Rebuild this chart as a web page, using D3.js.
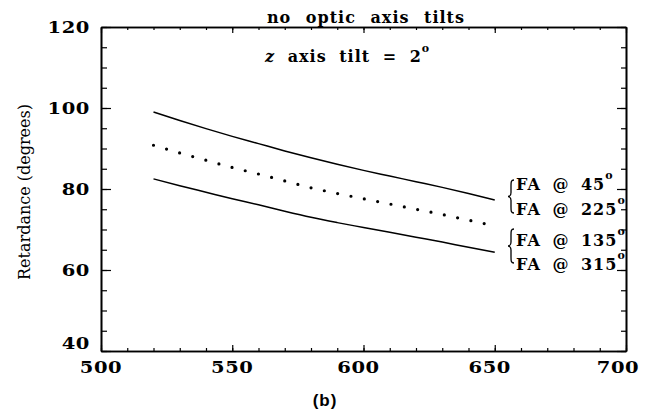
<!DOCTYPE html>
<html>
<head>
<meta charset="utf-8">
<script src="https://cdn.jsdelivr.net/npm/d3@7"></script>
<style>
  html, body { margin: 0; padding: 0; background: #fff; }
  svg { display: block; }
</style>
</head>
<body>
<svg id="chart" width="648" height="413"></svg>
<script>
// Wavelength samples (nm)
const wavelength = [520, 530, 540, 550, 560, 570, 580, 590, 600, 610, 620, 630, 640, 650];
// Retardance (degrees), fast axis at 45° / 225°
const retardFA45 = [99.0, 96.9, 94.9, 93.0, 91.2, 89.4, 87.7, 86.1, 84.6, 83.2, 81.8, 80.4, 78.9, 77.3];
// Retardance (degrees), no tilt reference (dotted)
const retardMid = [90.8, 88.9, 87.1, 85.3, 83.7, 82.0, 80.3, 78.9, 77.6, 76.3, 75.0, 73.7, 72.3, 70.9];
// Retardance (degrees), fast axis at 135° / 315°
const retardFA135 = [82.5, 80.8, 79.2, 77.6, 76.1, 74.5, 73.0, 71.7, 70.5, 69.3, 68.1, 66.9, 65.6, 64.4];

const xMajor = [500, 550, 600, 650, 700];
const xMinor = d3.range(500, 701, 10);
const yMajor = [40, 60, 80, 100, 120];
const yMinor = d3.range(40, 121, 5);

const SERIF = "'DejaVu Serif', 'Liberation Serif', serif";

const svg = d3.select("#chart");
const L = 101, R = 626, T = 27, B = 351;
const x = d3.scaleLinear().domain([500, 700]).range([L, R]);
const y = d3.scaleLinear().domain([40, 120]).range([B, T]);

// Axes: ticks pointing inward on all four sides
function styleAxis(g) {
  g.selectAll("path").attr("stroke", "#000").attr("stroke-width", 1.6);
  g.selectAll("line").attr("stroke", "#000").attr("stroke-width", 1.2);
  g.selectAll("text").remove();
}
svg.append("g").attr("transform", `translate(0,${B})`)
  .call(d3.axisBottom(x).tickValues(xMinor).tickSize(-3).tickSizeOuter(0)).call(styleAxis);
svg.append("g").attr("transform", `translate(0,${B})`)
  .call(d3.axisBottom(x).tickValues(xMajor).tickSize(-6).tickSizeOuter(0)).call(styleAxis);
svg.append("g").attr("transform", `translate(0,${T})`)
  .call(d3.axisTop(x).tickValues(xMinor).tickSize(-3).tickSizeOuter(0)).call(styleAxis);
svg.append("g").attr("transform", `translate(0,${T})`)
  .call(d3.axisTop(x).tickValues(xMajor).tickSize(-6).tickSizeOuter(0)).call(styleAxis);
svg.append("g").attr("transform", `translate(${L},0)`)
  .call(d3.axisLeft(y).tickValues(yMinor).tickSize(-6).tickSizeOuter(0)).call(styleAxis);
svg.append("g").attr("transform", `translate(${L},0)`)
  .call(d3.axisLeft(y).tickValues(yMajor).tickSize(-10).tickSizeOuter(0)).call(styleAxis);
svg.append("g").attr("transform", `translate(${R},0)`)
  .call(d3.axisRight(y).tickValues(yMinor).tickSize(-5).tickSizeOuter(0)).call(styleAxis);
svg.append("g").attr("transform", `translate(${R},0)`)
  .call(d3.axisRight(y).tickValues(yMajor).tickSize(-9).tickSizeOuter(0)).call(styleAxis);

// Tick labels (wide, bold digits)
const SX = 1.22;
svg.selectAll(".ylab").data(yMajor).enter().append("text")
  .attr("font-family", SERIF).attr("font-weight", "bold")
  .attr("transform", d => `translate(90,${y(d) + (d === 40 ? -2 : 5.5)}) scale(${SX},1)`)
  .attr("text-anchor", "end")
  .attr("font-size", 16)
  .attr("letter-spacing", 0.5)
  .text(d => d);
svg.selectAll(".xlab").data(xMajor).enter().append("text")
  .attr("font-family", SERIF).attr("font-weight", "bold")
  .attr("transform", d => `translate(${x(d) - (d === 700 ? 8 : d >= 600 ? 5 : 0)},373) scale(${SX},1)`)
  .attr("text-anchor", "middle")
  .attr("font-size", 16)
  .attr("letter-spacing", 0.5)
  .text(d => d);

// Axis title
svg.append("text")
  .attr("font-family", SERIF)
  .attr("transform", "translate(30,192) rotate(-90)")
  .attr("text-anchor", "middle")
  .attr("font-size", 16)
  .text("Retardance (degrees)");

// Titles
svg.append("text")
  .attr("font-family", SERIF).attr("font-weight", "bold")
  .attr("x", 366).attr("y", 23)
  .attr("text-anchor", "middle")
  .attr("font-size", 16)
  .attr("letter-spacing", 1)
  .attr("word-spacing", 8)
  .text("no optic axis tilts");

const zt = svg.append("text")
  .attr("font-family", SERIF).attr("font-weight", "bold")
  .attr("x", 265).attr("y", 62)
  .attr("font-size", 16)
  .attr("letter-spacing", 1)
  .attr("word-spacing", 6);
zt.append("tspan").attr("font-style", "italic").text("z");
zt.append("tspan").text(" axis tilt = 2");
zt.append("tspan").attr("font-size", 11).attr("dy", -10).text("o");

// Data lines
const line = d3.line().curve(d3.curveMonotoneX).x((d, i) => x(wavelength[i])).y(d => y(d));
svg.append("path").datum(retardFA45)
  .attr("d", line).attr("fill", "none").attr("stroke", "#000").attr("stroke-width", 1.5);
svg.append("path").datum(retardFA135)
  .attr("d", line).attr("fill", "none").attr("stroke", "#000").attr("stroke-width", 1.5);
svg.append("path").datum(retardMid)
  .attr("d", line).attr("fill", "none").attr("stroke", "#000")
  .attr("stroke-width", 3.2).attr("stroke-linecap", "round")
  .attr("stroke-dasharray", "0 13.6");

// Legend braces and labels
function brace(yTop, yBot, xr) {
  const m = (yTop + yBot) / 2;
  const xm = xr - 3, xl = xr - 6;
  return `M${xr},${yTop} C${xm},${yTop} ${xm},${yTop + 2} ${xm},${yTop + 6} L${xm},${m - 4} ` +
         `C${xm},${m - 1} ${xl + 1},${m} ${xl},${m} C${xl + 1},${m} ${xm},${m + 1} ${xm},${m + 4} ` +
         `L${xm},${yBot - 6} C${xm},${yBot - 2} ${xm},${yBot} ${xr},${yBot}`;
}
const legendRows = [
  { label: "FA @ 45", y: 190 },
  { label: "FA @ 225", y: 215 },
  { label: "FA @ 135", y: 246 },
  { label: "FA @ 315", y: 270 }
];
svg.append("path").attr("d", brace(180, 213, 514)).attr("fill", "none").attr("stroke", "#000").attr("stroke-width", 1.3);
svg.append("path").attr("d", brace(229, 263, 514)).attr("fill", "none").attr("stroke", "#000").attr("stroke-width", 1.3);
legendRows.forEach(r => {
  const t = svg.append("text")
    .attr("font-family", SERIF).attr("font-weight", "bold")
    .attr("x", 516).attr("y", r.y).attr("font-size", 16)
    .attr("letter-spacing", 1)
    .attr("word-spacing", 5);
  t.append("tspan").text(r.label);
  t.append("tspan").attr("font-size", 11).attr("dy", -11).text("o");
});

// Panel label
svg.append("text")
  .attr("x", 325).attr("y", 406)
  .attr("text-anchor", "middle")
  .attr("font-family", "'Liberation Sans', Arial, sans-serif")
  .attr("font-weight", "bold")
  .attr("font-size", 17)
  .attr("letter-spacing", 1)
  .attr("fill", "#000")
  .text("(b)");
</script>
</body>
</html>
